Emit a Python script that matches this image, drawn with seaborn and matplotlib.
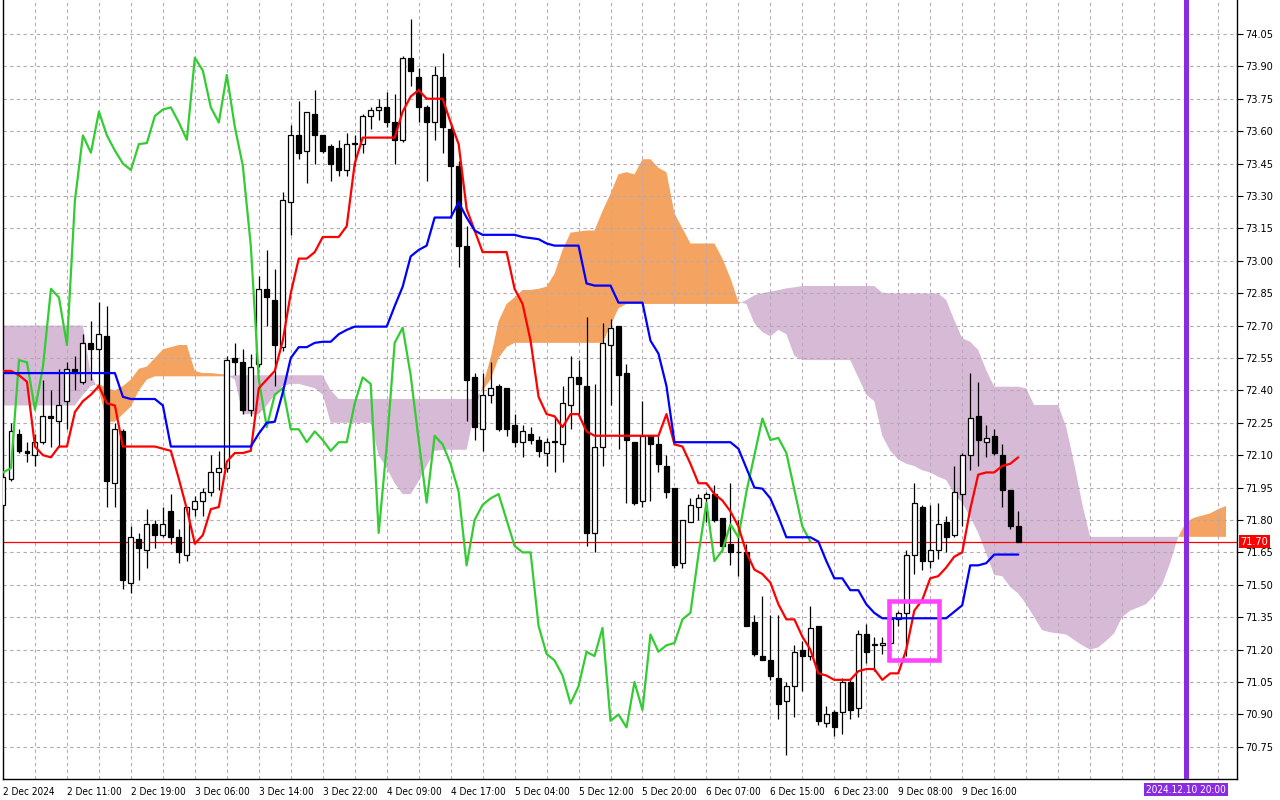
import numpy as np
import pandas as pd
import seaborn as sns
import matplotlib
matplotlib.use("Agg")
import matplotlib.pyplot as plt
import matplotlib.transforms as mtransforms
from matplotlib.patches import Rectangle

# hourly candles, bar 0 = 2 Dec 2024 00:00
opens = [
    71.87, 71.99, 72.20, 72.12, 72.10, 72.16, 72.28, 72.26, 72.35, 72.50,
    72.44, 72.62, 72.59, 72.65, 71.97, 72.21, 71.51, 71.71, 71.66, 71.78,
    71.73, 71.84, 71.72, 71.64, 71.85, 71.89, 71.93, 72.02, 72.04, 72.55,
    72.53, 72.31, 72.52, 72.87, 72.82, 72.60, 73.27, 73.58, 73.51, 73.68,
    73.58, 73.53, 73.52, 73.42, 73.54, 73.54, 73.67, 73.70, 73.71, 73.64,
    73.56, 73.94, 73.85, 73.71, 73.64, 73.85, 73.61, 73.44, 73.07, 72.46,
    72.22, 72.38, 72.42, 72.41, 72.24, 72.16, 72.20, 72.17, 72.11, 72.16,
    72.15, 72.33, 72.46, 72.42, 71.74, 72.14, 72.61, 72.70, 72.48, 72.16,
    71.89, 72.19, 72.15, 72.05, 71.95, 71.60, 71.79, 71.86, 71.90, 71.92,
    71.81, 71.69, 71.65, 71.65, 71.33, 71.17, 71.15, 71.07, 70.96, 71.03,
    71.20, 71.17, 71.31, 70.86, 70.91, 70.91, 71.05, 70.93, 71.27, 71.22,
    71.22, 71.23, 71.34, 71.37, 71.64, 71.86, 71.61, 71.66, 71.79, 71.73,
    71.92, 72.10, 72.28, 72.16, 72.19, 72.10, 71.94, 71.77]
highs = [
    72.02, 72.25, 72.22, 72.16, 72.20, 72.45, 72.40, 72.50, 72.53, 72.56,
    72.66, 72.72, 72.81, 72.79, 72.25, 72.22, 71.77, 71.74, 71.85, 71.80,
    71.86, 71.92, 71.76, 71.86, 71.91, 71.95, 72.10, 72.12, 72.56, 72.62,
    72.59, 72.57, 72.93, 73.05, 72.96, 73.32, 73.63, 73.74, 73.69, 73.79,
    73.58, 73.54, 73.56, 73.59, 73.58, 73.68, 73.71, 73.75, 73.78, 73.77,
    73.95, 74.12, 73.89, 73.72, 73.90, 73.96, 73.64, 73.46, 73.16, 72.48,
    72.48, 72.53, 72.43, 72.41, 72.29, 72.24, 72.23, 72.19, 72.18, 72.27,
    72.42, 72.56, 72.54, 72.74, 72.43, 72.71, 72.73, 72.70, 72.52, 72.16,
    72.35, 72.19, 72.19, 72.10, 71.95, 71.80, 71.90, 71.92, 71.93, 71.96,
    71.81, 71.97, 71.80, 71.69, 71.36, 71.45, 71.36, 71.36, 71.05, 71.22,
    71.24, 71.40, 71.31, 70.94, 70.92, 71.07, 71.07, 71.29, 71.32, 71.26,
    71.26, 71.36, 71.38, 71.66, 71.97, 71.87, 71.87, 71.88, 71.82, 72.05,
    72.11, 72.48, 72.44, 72.24, 72.22, 72.15, 71.94, 71.84]
lows = [
    71.85, 71.98, 72.11, 72.07, 72.05, 72.15, 72.14, 72.14, 72.22, 72.40,
    72.43, 72.45, 72.42, 71.86, 71.86, 71.48, 71.46, 71.52, 71.58, 71.67,
    71.72, 71.69, 71.60, 71.61, 71.82, 71.82, 71.91, 71.94, 72.02, 72.47,
    72.29, 72.28, 72.51, 72.70, 72.42, 72.58, 73.12, 73.47, 73.36, 73.45,
    73.50, 73.37, 73.39, 73.39, 73.44, 73.50, 73.61, 73.65, 73.62, 73.45,
    73.55, 73.81, 73.64, 73.37, 73.56, 73.50, 73.20, 72.97, 72.26, 72.17,
    72.12, 72.34, 72.21, 72.19, 72.14, 72.09, 72.15, 72.09, 72.05, 72.02,
    72.07, 72.22, 72.29, 71.68, 71.65, 72.05, 72.33, 72.13, 71.88, 71.87,
    71.86, 71.89, 72.02, 71.90, 71.58, 71.58, 71.79, 71.80, 71.79, 71.79,
    71.65, 71.59, 71.54, 71.31, 71.17, 71.15, 71.06, 70.88, 70.71, 70.89,
    71.01, 71.15, 70.85, 70.84, 70.80, 70.81, 70.88, 70.89, 71.14, 71.10,
    71.18, 71.20, 71.31, 71.17, 71.55, 71.57, 71.58, 71.62, 71.65, 71.72,
    71.77, 72.03, 72.05, 72.09, 72.10, 71.86, 71.76, 71.70]
closes = [
    72.00, 72.21, 72.12, 72.11, 72.16, 72.28, 72.27, 72.33, 72.50, 72.49,
    72.62, 72.59, 72.66, 71.98, 72.22, 71.52, 71.72, 71.67, 71.78, 71.73,
    71.78, 71.72, 71.65, 71.86, 71.89, 71.93, 72.02, 72.04, 72.54, 72.53,
    72.31, 72.51, 72.87, 72.83, 72.61, 73.28, 73.58, 73.50, 73.69, 73.58,
    73.51, 73.45, 73.42, 73.54, 73.545, 73.67, 73.70, 73.71, 73.64, 73.56,
    73.94, 73.88, 73.71, 73.64, 73.86, 73.62, 73.44, 73.07, 72.45, 72.23,
    72.38, 72.41, 72.22, 72.22, 72.16, 72.21, 72.17, 72.12, 72.16, 72.16,
    72.34, 72.46, 72.43, 71.74, 72.14, 72.62, 72.69, 72.47, 72.17, 71.88,
    72.19, 72.15, 72.06, 71.93, 71.59, 71.80, 71.87, 71.90, 71.92, 71.80,
    71.68, 71.65, 71.65, 71.31, 71.18, 71.15, 71.08, 70.95, 71.03, 71.19,
    71.17, 71.30, 70.87, 70.90, 70.84, 71.05, 70.92, 71.27, 71.19, 71.22,
    71.23, 71.34, 71.37, 71.64, 71.88, 71.61, 71.66, 71.78, 71.72, 71.93,
    72.10, 72.27, 72.17, 72.18, 72.11, 71.94, 71.77, 71.70]

tenkan = [
    72.49, 72.49, 72.47, 72.44, 72.14, 72.10, 72.09, 72.14, 72.14, 72.30,
    72.35, 72.38, 72.42, 72.34, 72.33, 72.14, 72.14, 72.14, 72.14, 72.14,
    72.13, 72.12, 71.99, 71.85, 71.69, 71.73, 71.85, 71.86, 72.07, 72.11,
    72.11, 72.12, 72.41, 72.45, 72.49, 72.63, 72.85, 73.01, 73.01, 73.04,
    73.11, 73.11, 73.11, 73.16, 73.45, 73.57, 73.57, 73.57, 73.57, 73.57,
    73.69, 73.76, 73.79, 73.75, 73.75, 73.75, 73.64, 73.54, 73.24, 73.14,
    73.04, 73.04, 73.04, 73.04, 72.87, 72.80, 72.63, 72.37, 72.29, 72.28,
    72.23, 72.29, 72.29, 72.21, 72.19, 72.19, 72.19, 72.19, 72.19, 72.19,
    72.19, 72.19, 72.19, 72.29, 72.15, 72.14, 72.06, 71.97, 71.97, 71.92,
    71.89, 71.84, 71.77, 71.65, 71.57, 71.55, 71.51, 71.41, 71.34, 71.34,
    71.26, 71.20, 71.09, 71.08, 71.06, 71.06, 71.06, 71.10, 71.11, 71.11,
    71.06, 71.09, 71.09, 71.20, 71.38, 71.43, 71.53, 71.54, 71.58, 71.63,
    71.65, 71.85, 72.01, 72.02, 72.02, 72.05, 72.06, 72.09]
kijun = [
    72.48, 72.48, 72.48, 72.48, 72.48, 72.48, 72.48, 72.48, 72.48, 72.48,
    72.48, 72.48, 72.48, 72.48, 72.48, 72.37, 72.36, 72.36, 72.36, 72.36,
    72.33, 72.14, 72.14, 72.14, 72.14, 72.14, 72.14, 72.14, 72.14, 72.14,
    72.14, 72.14, 72.20, 72.25, 72.255, 72.39, 72.55, 72.60, 72.60, 72.62,
    72.625, 72.625, 72.66, 72.68, 72.695, 72.695, 72.695, 72.695, 72.695, 72.79,
    72.88, 73.02, 73.05, 73.07, 73.20, 73.20, 73.20, 73.27, 73.20, 73.14,
    73.12, 73.12, 73.12, 73.12, 73.12, 73.11, 73.105, 73.10, 73.08, 73.07,
    73.07, 73.07, 73.07, 72.895, 72.885, 72.885, 72.885, 72.806, 72.806, 72.806,
    72.806, 72.63, 72.57, 72.42, 72.16, 72.16, 72.16, 72.16, 72.16, 72.16,
    72.16, 72.16, 72.13, 72.04, 71.95, 71.945, 71.90, 71.815, 71.72, 71.72,
    71.72, 71.72, 71.70, 71.61, 71.53, 71.53, 71.475, 71.475, 71.41, 71.37,
    71.345, 71.345, 71.345, 71.345, 71.345, 71.345, 71.345, 71.345, 71.345, 71.375,
    71.405, 71.59, 71.59, 71.60, 71.64, 71.64, 71.64, 71.64]

# senkou spans, already drawn 26 bars ahead (bars 0..153)
span_a = [
    72.33, 72.33, 72.33, 72.33, 72.33, 72.33, 72.33, 72.33, 72.33, 72.33,
    72.38, 72.42, 72.43, 72.41, 72.40, 72.42, 72.45, 72.50, 72.51, 72.55,
    72.59, 72.60, 72.61, 72.61, 72.49, 72.48, 72.48, 72.476, 72.473, 72.45,
    72.29, 72.29, 72.29, 72.33, 72.38, 72.42, 72.43, 72.43, 72.42, 72.41,
    72.38, 72.25, 72.25, 72.25, 72.25, 72.25, 72.25, 72.10, 72.04, 71.97,
    71.92, 71.92, 71.98, 72.05, 72.12, 72.125, 72.125, 72.125, 72.125, 72.30,
    72.42, 72.55, 72.72, 72.80, 72.83, 72.865, 72.865, 72.87, 72.88, 72.94,
    73.05, 73.13, 73.135, 73.14, 73.14, 73.23, 73.31, 73.40, 73.41, 73.40,
    73.47, 73.47, 73.43, 73.41, 73.22, 73.15, 73.08, 73.08, 73.08, 73.08,
    73.01, 72.92, 72.81, 72.80, 72.71, 72.67, 72.65, 72.68, 72.66, 72.56,
    72.54, 72.54, 72.54, 72.54, 72.54, 72.54, 72.54, 72.46, 72.38, 72.35,
    72.19, 72.12, 72.08, 72.06, 72.05, 72.03, 72.02, 72.00, 71.985, 71.92,
    71.88, 71.815, 71.74, 71.645, 71.545, 71.54, 71.49, 71.46, 71.41, 71.35,
    71.29, 71.28, 71.275, 71.27, 71.245, 71.22, 71.20, 71.21, 71.24, 71.275,
    71.35, 71.38, 71.395, 71.41, 71.45, 71.50, 71.60, 71.72, 71.79, 71.81,
    71.82, 71.83, 71.85, 71.865]
span_b = [
    72.70, 72.70, 72.70, 72.70, 72.70, 72.70, 72.70, 72.70, 72.70, 72.70,
    72.70, 72.47, 72.40, 72.255, 72.255, 72.29, 72.325, 72.40, 72.45, 72.465,
    72.465, 72.465, 72.465, 72.465, 72.465, 72.465, 72.465, 72.465, 72.465, 72.47,
    72.47, 72.47, 72.47, 72.47, 72.47, 72.47, 72.47, 72.47, 72.47, 72.47,
    72.47, 72.40, 72.36, 72.36, 72.36, 72.36, 72.36, 72.36, 72.36, 72.36,
    72.36, 72.36, 72.36, 72.36, 72.36, 72.36, 72.36, 72.36, 72.36, 72.36,
    72.40, 72.45, 72.55, 72.60, 72.62, 72.62, 72.62, 72.62, 72.62, 72.62,
    72.62, 72.62, 72.62, 72.62, 72.62, 72.62, 72.70, 72.78, 72.80, 72.80,
    72.80, 72.80, 72.80, 72.80, 72.80, 72.80, 72.80, 72.80, 72.80, 72.80,
    72.80, 72.80, 72.80, 72.818, 72.84, 72.85, 72.857, 72.864, 72.872, 72.877,
    72.883, 72.883, 72.883, 72.883, 72.883, 72.883, 72.883, 72.883, 72.883, 72.883,
    72.852, 72.849, 72.849, 72.849, 72.849, 72.849, 72.849, 72.849, 72.818, 72.726,
    72.641, 72.625, 72.587, 72.494, 72.417, 72.417, 72.417, 72.417, 72.409, 72.332,
    72.332, 72.332, 72.332, 72.232, 72.062, 71.877, 71.722, 71.722, 71.722, 71.722,
    71.722, 71.722, 71.722, 71.722, 71.722, 71.722, 71.722, 71.722, 71.722, 71.722,
    71.722, 71.722, 71.722, 71.722]

chikou_shift = 26
last_price = 71.70
time_labels = ["2 Dec 2024", "2 Dec 11:00", "2 Dec 19:00", "3 Dec 06:00",
               "3 Dec 14:00", "3 Dec 22:00", "4 Dec 09:00", "4 Dec 17:00",
               "5 Dec 04:00", "5 Dec 12:00", "5 Dec 20:00", "6 Dec 07:00",
               "6 Dec 15:00", "6 Dec 23:00", "9 Dec 08:00", "9 Dec 16:00"]
price_ticks = [70.75, 70.90, 71.05, 71.20, 71.35, 71.50, 71.65, 71.80, 71.95,
               72.10, 72.25, 72.40, 72.55, 72.70, 72.85, 73.00, 73.15, 73.30,
               73.45, 73.60, 73.75, 73.90, 74.05]
marker_bar = 148
marker_label = "2024.12.10 20:00"
box_bars = (110.9, 117.1)
box_prices = (71.152, 71.425)

sns.set_style("white")
plt.rcParams['font.family'] = ['DejaVu Sans']
plt.rcParams['font.stretch'] = 'condensed'

fig = plt.figure(figsize=(12.8, 8), dpi=100)
ax = fig.add_axes([3 / 1280, 21 / 800, 1234 / 1280, 779 / 800])
ax.set_xlim(0.125, 154.375)
ax.set_ylim(70.601, 74.207)

# grid
for p in price_ticks:
    ax.axhline(p, color='#b3a9b3', lw=0.8, ls=(0, (3, 3)), zorder=1.5)
for b in range(4, 155, 4):
    ax.axvline(b, color='#bba9bb', lw=0.8, ls=(0, (3, 3)), zorder=1.5)

# cloud
sa = np.array(span_a)
sb = np.array(span_b)
xs = np.arange(len(sa))
ax.fill_between(xs, sa, sb, where=sa >= sb, interpolate=True,
                color='#f4a460', lw=0, zorder=1)
ax.fill_between(xs, sa, sb, where=sa < sb, interpolate=True,
                color='#d6bad6', lw=0, zorder=1)

# current price line
ax.axhline(last_price, color='red', lw=0.9, zorder=2)

# candles
o = np.array(opens); h = np.array(highs)
l = np.array(lows); c = np.array(closes)
bars = np.arange(len(c))
up = c >= o
body_lo = np.minimum(o, c)
body_h = np.maximum(np.abs(c - o), 0.004)
ax.vlines(bars, l, h, color='black', lw=0.9, zorder=3)
ax.bar(bars[up], body_h[up], bottom=body_lo[up], width=0.62,
       color='white', edgecolor='black', lw=0.9, zorder=3.2)
ax.bar(bars[~up], body_h[~up], bottom=body_lo[~up], width=0.62,
       color='black', edgecolor='black', lw=0.9, zorder=3.2)

# ichimoku lines
chikou = pd.DataFrame({'bar': bars[:len(c) - chikou_shift],
                       'price': c[chikou_shift:]})
sns.lineplot(data=chikou, x='bar', y='price', color='#33cc33', lw=1.6,
             ax=ax, zorder=4)
sns.lineplot(x=bars, y=tenkan, color='red', lw=1.6, ax=ax, zorder=4.2)
sns.lineplot(x=bars, y=kijun, color='blue', lw=1.6, ax=ax, zorder=4.4)

# annotations
ax.add_patch(Rectangle((box_bars[0], box_prices[0]), box_bars[1] - box_bars[0],
                       box_prices[1] - box_prices[0], fill=False,
                       edgecolor='#ff44ff', lw=3.3, zorder=5))
ax.axvline(marker_bar, color='#8a2be2', lw=3.6, zorder=5)

# axes styling
ax.set_xlabel('')
ax.set_ylabel('')
for side in ['left', 'right', 'bottom']:
    ax.spines[side].set_visible(True)
    ax.spines[side].set_color('black')
    ax.spines[side].set_linewidth(1.0)
ax.spines['top'].set_visible(False)

ax.yaxis.tick_right()
ax.set_yticks(price_ticks)
ax.set_yticklabels([f"{p:.2f}" for p in price_ticks])
ax.tick_params(axis='y', direction='out', length=4, width=0.8, pad=2,
               labelsize=7.8, colors='black')

ax.set_xticks(np.arange(0, 8 * len(time_labels), 8))
ax.set_xticklabels(time_labels, ha='left')
ax.tick_params(axis='x', direction='out', length=4, width=0.8, pad=1.5,
               labelsize=7.2, colors='black')

ytrans = mtransforms.blended_transform_factory(ax.transAxes, ax.transData)
ax.text(1.003, last_price, f"{last_price:.2f}", transform=ytrans,
        ha='left', va='center', fontsize=7.8, color='white', zorder=6,
        bbox=dict(facecolor='red', edgecolor='none', pad=1.2))
xtrans = mtransforms.blended_transform_factory(ax.transData, ax.transAxes)
ax.text(marker_bar, -0.0135, marker_label, transform=xtrans,
        ha='center', va='center', fontsize=7.2, color='white', zorder=6,
        bbox=dict(facecolor='#8a2be2', edgecolor='none', pad=1.2),
        clip_on=False)

fig.savefig('out.png', dpi=100)
